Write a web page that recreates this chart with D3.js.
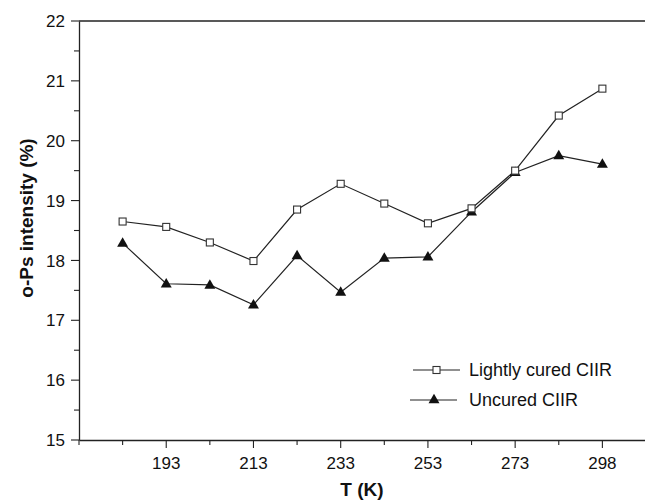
<!DOCTYPE html>
<html>
<head>
<meta charset="utf-8">
<script src="https://cdn.jsdelivr.net/npm/d3@7"></script>
<style>
  html, body { margin: 0; padding: 0; background: #fff; }
  svg { display: block; font-family: Arial, "Liberation Sans", Helvetica, sans-serif; }
</style>
</head>
<body>
<svg id="chart" width="645" height="503"></svg>
<script>
// Temperatures (K), placed at equal spacing (ordinal positions)
const temperatures = [183, 193, 203, 213, 223, 233, 243, 253, 263, 273, 283, 298];
const tickLabels = ["193", "213", "233", "253", "273", "298"];
const lightlyCured = [18.65, 18.56, 18.30, 17.99, 18.85, 19.28, 18.95, 18.62, 18.87, 19.50, 20.42, 20.87];
const uncured = [18.29, 17.61, 17.59, 17.26, 18.08, 17.47, 18.04, 18.06, 18.81, 19.47, 19.75, 19.61];
const seriesNames = ["Lightly cured CIIR", "Uncured CIIR"];
const yTicks = [15, 16, 17, 18, 19, 20, 21, 22];

(function () {
const svg = d3.select("#chart");
const mLeft = 79, mRight = 646, mTop = 21, mBottom = 440;

// x: index positions, axis starts one step before first point
const x = d3.scaleLinear().domain([0, 13]).range([mLeft, mRight]);
const y = d3.scaleLinear().domain([15, 22]).range([mBottom, mTop]);

const stroke = "#222";

// Top frame line
svg.append("line").attr("x1", mLeft).attr("x2", mRight).attr("y1", mTop).attr("y2", mTop)
  .attr("stroke", stroke).attr("stroke-width", 1.3);

// Y axis
const yMinor = d3.range(15, 22.01, 0.5);
const gy = svg.append("g").attr("transform", `translate(${mLeft},0)`)
  .call(d3.axisLeft(y).tickValues([]).tickSizeOuter(0));
gy.select(".domain").attr("stroke", stroke).attr("stroke-width", 1.3);
yMinor.forEach(v => {
  const major = Number.isInteger(v);
  svg.append("line").attr("x1", mLeft - (major ? 8 : 5)).attr("x2", mLeft)
    .attr("y1", y(v)).attr("y2", y(v)).attr("stroke", stroke).attr("stroke-width", 1.1);
});
svg.append("g").selectAll("text").data(yTicks).join("text")
  .attr("x", mLeft - 14).attr("y", d => y(d)).attr("dy", "0.36em")
  .attr("text-anchor", "end").attr("font-size", 17).attr("fill", "#111")
  .text(d => d);

// X axis
const gx = svg.append("g").attr("transform", `translate(0,${mBottom})`)
  .call(d3.axisBottom(x).tickValues([]).tickSizeOuter(0));
gx.select(".domain").attr("stroke", stroke).attr("stroke-width", 1.3);
d3.range(0, 13).forEach(i => {
  const major = i >= 2 && i % 2 === 0;
  svg.append("line").attr("x1", x(i)).attr("x2", x(i))
    .attr("y1", mBottom).attr("y2", mBottom + (major ? 8 : 5))
    .attr("stroke", stroke).attr("stroke-width", 1.1);
});
svg.append("g").selectAll("text").data(tickLabels).join("text")
  .attr("x", d => x(temperatures.indexOf(+d) + 1)).attr("y", 469)
  .attr("text-anchor", "middle").attr("font-size", 17).attr("fill", "#111")
  .text(d => d);

// Axis titles
svg.append("text").attr("x", 362).attr("y", 496).attr("text-anchor", "middle")
  .attr("font-size", 19).attr("font-weight", "bold").attr("fill", "#111").text("T (K)");
svg.append("text").attr("transform", "translate(33,218) rotate(-90)")
  .attr("text-anchor", "middle")
  .attr("font-size", 19).attr("font-weight", "bold").attr("fill", "#111").text("o-Ps intensity (%)");

const line = d3.line().x((d, i) => x(i + 1)).y(d => y(d));
const tri = d3.symbol().type(d3.symbolTriangle).size(52);

svg.append("path").datum(uncured).attr("d", line)
  .attr("fill", "none").attr("stroke", stroke).attr("stroke-width", 1.2);
svg.append("path").datum(lightlyCured).attr("d", line)
  .attr("fill", "none").attr("stroke", stroke).attr("stroke-width", 1.2);

svg.append("g").selectAll("path").data(uncured).join("path")
  .attr("d", tri).attr("transform", (d, i) => `translate(${x(i + 1)},${y(d) + 0.5})`)
  .attr("fill", "#111");
svg.append("g").selectAll("rect").data(lightlyCured).join("rect")
  .attr("x", (d, i) => x(i + 1) - 3.5).attr("y", d => y(d) - 3.5)
  .attr("width", 7).attr("height", 7)
  .attr("fill", "#fff").attr("stroke", "#333").attr("stroke-width", 1.1);

// Legend
const legend = svg.append("g");
const legRows = [{ y: 370, cx: 436.5, x1: 413, x2: 460, marker: "square" },
                 { y: 400, cx: 434, x1: 410, x2: 457, marker: "triangle" }];
legRows.forEach((r, i) => {
  legend.append("line").attr("x1", r.x1).attr("x2", r.x2).attr("y1", r.y).attr("y2", r.y)
    .attr("stroke", stroke).attr("stroke-width", 1.2);
  if (r.marker === "square") {
    legend.append("rect").attr("x", r.cx - 3.5).attr("y", r.y - 3.5).attr("width", 7).attr("height", 7)
      .attr("fill", "#fff").attr("stroke", "#333").attr("stroke-width", 1.1);
  } else {
    legend.append("path").attr("d", tri).attr("transform", `translate(${r.cx},${r.y})`).attr("fill", "#111");
  }
  legend.append("text").attr("x", 469).attr("y", r.y).attr("dy", "0.35em")
    .attr("font-size", 18).attr("fill", "#111").text(seriesNames[i]);
});
})();
</script>
</body>
</html>
